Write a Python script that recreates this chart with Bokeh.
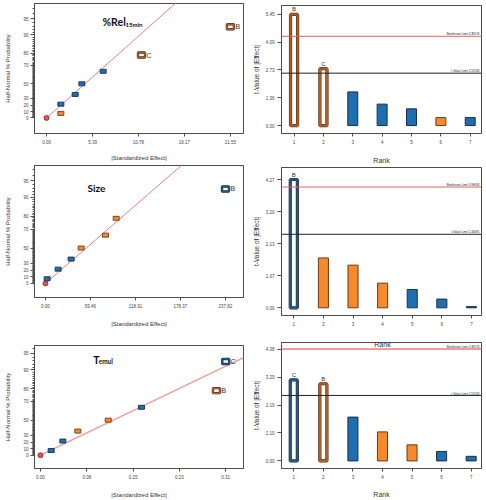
from statistics import NormalDist
from bokeh.plotting import figure
from bokeh.layouts import row, column
from bokeh.models import ColumnDataSource, FixedTicker, Range1d, Label, LabelSet, Span
from bokeh.core.properties import value
from bokeh.embed import file_html
from bokeh.resources import INLINE

# ---------------- data ----------------
# half-normal plots: |standardized effect| against half-normal % probability
hn_prob = [0.0, 7.14, 21.43, 35.71, 50.0, 64.29, 78.57, 92.86]
hn_prob_ticks = [0, 10, 20, 30, 50, 70, 80, 90, 95, 99]

rel_effect = [0.0, 1.68, 1.68, 3.36, 4.14, 6.64, 11.13, 21.55]
rel_kind = ["err", "pos", "neg", "neg", "neg", "neg", "posSel", "posSel"]
rel_tag = ["", "", "", "", "", "", "C", "B"]
rel_xticks = ["0.00", "5.39", "10.78", "16.17", "21.55"]
rel_xmax = 21.55
rel_slope = 0.150

size_effect = [0.0, 2.2, 16.7, 33.9, 47.1, 79.3, 93.4, 237.82]
size_kind = ["err", "neg", "neg", "neg", "pos", "pos", "pos", "negSel"]
size_tag = ["", "", "", "", "", "", "", "B"]
size_xticks = ["0.00", "59.46", "118.91", "178.37", "237.82"]
size_xmax = 237.82
size_slope = 0.01254

temul_effect = [0.0, 0.0179, 0.0374, 0.0625, 0.1133, 0.169, 0.2945, 0.310]
temul_kind = ["err", "neg", "neg", "pos", "pos", "neg", "posSel", "negSel"]
temul_tag = ["", "", "", "", "", "", "B", "C"]
temul_xticks = ["0.00", "0.08", "0.15", "0.23", "0.31"]
temul_xmax = 0.31
temul_slope = 5.52

# Pareto charts: t-value of |effect| by rank
rank = [1, 2, 3, 4, 5, 6, 7]

rel_t = [5.45, 2.79, 1.65, 1.05, 0.82, 0.39, 0.39]
rel_t_kind = ["posSel", "posSel", "neg", "neg", "neg", "pos", "neg"]
rel_t_tag = ["B", "C", "", "", "", "", ""]
rel_yticks = ["0.00", "1.36", "2.73", "4.09", "5.45"]
rel_limits = [4.38, 2.5706]
rel_limit_text = ["Bonferroni Limit 4.38176", "t-Value Limit 2.57058"]

size_t = [4.27, 1.66, 1.42, 0.82, 0.61, 0.29, 0.04]
size_t_kind = ["negSel", "pos", "pos", "pos", "neg", "neg", "neg"]
size_t_tag = ["B", "", "", "", "", "", ""]
size_yticks = ["0.00", "1.07", "2.13", "3.20", "4.27"]
size_limits = [4.02, 2.4469]
size_limit_text = ["Bonferroni Limit 3.99634", "t-Value Limit 2.44691"]

temul_t = [3.18, 3.03, 1.72, 1.14, 0.63, 0.37, 0.18]
temul_t_kind = ["negSel", "posSel", "neg", "pos", "pos", "neg", "neg"]
temul_t_tag = ["C", "B", "", "", "", "", ""]
temul_yticks = ["0.00", "1.10", "2.19", "3.29", "4.38"]
temul_limits = [4.39, 2.5706]
temul_limit_text = ["Bonferroni Limit 4.38176", "t-Value Limit 2.57058"]

# ---------------- styles ----------------
BLUE, BLUE_EDGE = "#1f6eb0", "#17304b"
ORANGE, ORANGE_EDGE = "#f5892c", "#6b3a18"
SEL_EDGE = {"posSel": "#b25e22", "negSel": "#1d5a8c"}
ERR_FILL, ERR_EDGE = "#e4514e", "#7a2424"
FRAME = "#4d4d4d"
FONT = "Liberation Sans"
TFONT = "Lato"

nd = NormalDist()


def hn_q(pct):
    return nd.inv_cdf(0.5 + pct / 200.0)


def style_fig(p, xlabel_standoff=8):
    p.outline_line_color = FRAME
    p.outline_line_width = 1
    p.xgrid.visible = False
    p.ygrid.visible = False
    for ax in (p.xaxis[0], p.yaxis[0]):
        ax.axis_line_color = FRAME
        ax.major_tick_line_color = FRAME
        ax.minor_tick_line_color = FRAME
        ax.major_label_text_font = FONT
        ax.major_label_text_font_size = "4.5px"
        ax.major_label_text_color = "#444444"
        ax.axis_label_text_font = FONT
        ax.axis_label_text_font_style = "normal"
        ax.axis_label_text_color = "#333333"
        ax.major_tick_in = 0
        ax.minor_tick_in = 0
    p.xaxis[0].major_tick_out = 3
    p.xaxis[0].major_label_standoff = 3
    p.xaxis[0].axis_label_standoff = xlabel_standoff


def make_fig(W, H, mb, xr, yr):
    return figure(width=W, height=H, x_range=Range1d(*xr), y_range=Range1d(*yr),
                  output_backend="svg", toolbar_location=None,
                  min_border_left=mb[0], min_border_right=mb[1],
                  min_border_top=mb[2], min_border_bottom=mb[3])


def halfnormal(effect, kind, tag, xticks, xmax, slope, W, H, mb, xr, yr, titles, xl_standoff,
               line_color="#ec7f7f", line_width=1.0):
    p = make_fig(W, H, mb, xr, yr)
    style_fig(p, xl_standoff)
    q = [hn_q(v) for v in hn_prob]
    p.line([0, xr[1]], [0, slope * xr[1]], line_color=line_color, line_width=line_width)

    idx_err = [i for i, k in enumerate(kind) if k == "err"]
    idx_sol = [i for i, k in enumerate(kind) if k in ("pos", "neg")]
    idx_sel = [i for i, k in enumerate(kind) if k in ("posSel", "negSel")]
    p.scatter([effect[i] for i in idx_err], [q[i] for i in idx_err], marker="circle", size=5,
              fill_color=ERR_FILL, line_color=ERR_EDGE, line_width=0.8)
    s_sol = ColumnDataSource(dict(
        x=[effect[i] for i in idx_sol], y=[q[i] for i in idx_sol],
        f=[BLUE if kind[i] == "neg" else ORANGE for i in idx_sol],
        l=[BLUE_EDGE if kind[i] == "neg" else ORANGE_EDGE for i in idx_sol]))
    p.rect("x", "y", width=6, height=4, width_units="screen", height_units="screen",
           fill_color="f", line_color="l", line_width=0.9, source=s_sol)
    s_sel = ColumnDataSource(dict(
        x=[effect[i] for i in idx_sel], y=[q[i] for i in idx_sel],
        l=[SEL_EDGE[kind[i]] for i in idx_sel], t=[tag[i] for i in idx_sel]))
    p.rect("x", "y", width=7, height=5, width_units="screen", height_units="screen",
           fill_color="white", line_color="#2b2b2b", line_width=2.4, source=s_sel)
    p.rect("x", "y", width=7, height=5, width_units="screen", height_units="screen",
           fill_color=None, line_color="l", line_width=1.5, source=s_sel)
    p.add_layout(LabelSet(x="x", y="y", text="t", source=s_sel, x_offset=5,
                          text_baseline="middle", text_font=value(FONT),
                          text_font_size="7px", text_color="#333333"))

    xt = [xmax * i / 4 for i in range(5)]
    p.xaxis[0].ticker = FixedTicker(ticks=xt, minor_ticks=[])
    p.xaxis[0].major_label_overrides = {v: s for v, s in zip(xt, xticks)}
    p.xaxis[0].axis_label = "|Standardized Effect|"
    p.xaxis[0].axis_label_text_font_size = "6px"

    yt = [hn_q(t) for t in hn_prob_ticks]
    ym = [hn_q(m) for m in range(1, 99) if m not in hn_prob_ticks]
    ya = p.yaxis[0]
    ya.ticker = FixedTicker(ticks=yt, minor_ticks=ym)
    ya.major_label_overrides = {v: str(t) for v, t in zip(yt, hn_prob_ticks)}
    ya.major_tick_out = 4
    ya.minor_tick_out = 2
    ya.major_label_standoff = 2
    ya.axis_label = "Half-Normal % Probability"
    ya.axis_label_text_font_size = "6px"
    ya.axis_label_standoff = 9

    for text, x, y, xo, fs in titles:
        p.add_layout(Label(x=x, y=y, x_offset=xo, text=text, text_font=TFONT,
                           text_font_style="bold", text_font_size=fs,
                           text_color="#111111", text_baseline="alphabetic"))
    return p


def pareto(tv, kind, tag, yticks, limits, limit_text, W, H, mb, xr, yr, xlabel, xl_standoff,
           bonf_color="#e9605c", bonf_width=1.0):
    p = make_fig(W, H, mb, xr, yr)
    style_fig(p, xl_standoff)
    idx_sol = [i for i, k in enumerate(kind) if k in ("pos", "neg")]
    idx_sel = [i for i, k in enumerate(kind) if k in ("posSel", "negSel")]
    s_sol = ColumnDataSource(dict(
        x=[rank[i] for i in idx_sol], top=[tv[i] for i in idx_sol],
        f=[BLUE if kind[i] == "neg" else ORANGE for i in idx_sol],
        l=[BLUE_EDGE if kind[i] == "neg" else ORANGE_EDGE for i in idx_sol]))
    p.vbar(x="x", top="top", bottom=0, width=0.34, fill_color="f", line_color="l",
           line_width=1, source=s_sol)
    s_sel = ColumnDataSource(dict(
        x=[rank[i] for i in idx_sel], top=[tv[i] for i in idx_sel],
        l=[SEL_EDGE[kind[i]] for i in idx_sel], t=[tag[i] for i in idx_sel]))
    p.vbar(x="x", top="top", bottom=0, width=0.24, fill_color="white", line_color="#3a2a20",
           line_width=3.2, source=s_sel)
    p.vbar(x="x", top="top", bottom=0, width=0.24, fill_color=None, line_color="l",
           line_width=2.2, source=s_sel)
    p.add_layout(LabelSet(x="x", y="top", text="t", source=s_sel, y_offset=2,
                          text_align="center", text_baseline="bottom",
                          text_font=value(FONT), text_font_size="6px", text_color="#333333"))

    colors = [bonf_color, "#222222"]
    widths = [bonf_width, 1.0]
    for lim, txt, c, w in zip(limits, limit_text, colors, widths):
        p.add_layout(Span(location=lim, dimension="width", line_color=c, line_width=w))
        p.add_layout(Label(x=xr[1], y=lim, x_offset=-2, y_offset=0.5, text=txt,
                           text_align="right", text_baseline="bottom", text_font=FONT,
                           text_font_size="3px", text_color="#222222"))

    p.xaxis[0].ticker = FixedTicker(ticks=rank, minor_ticks=[])
    if xlabel:
        p.xaxis[0].axis_label = "Rank"
        p.xaxis[0].axis_label_text_font_size = "7px"
    yt = [float(s) for s in yticks]
    ya = p.yaxis[0]
    ya.ticker = FixedTicker(ticks=yt, minor_ticks=[])
    ya.major_label_overrides = {v: s for v, s in zip(yt, yticks)}
    ya.major_tick_out = 4
    ya.major_label_standoff = 3
    ya.axis_label = "t-Value of |Effect|"
    ya.axis_label_text_font_size = "6.5px"
    ya.axis_label_standoff = 3
    return p


# ---------------- panels ----------------
LW, RW = 245, 241
L1 = halfnormal(rel_effect, rel_kind, rel_tag, rel_xticks, rel_xmax, rel_slope,
                LW, 163, (34, 2, 3, 29), (-1.41, 23.08), (-0.308, 2.261),
                [("%Rel", 6.56, 1.894, 0, "10.5px"), ("15min", 6.56, 1.849, 23, "6px")], 8)
L2 = halfnormal(size_effect, size_kind, size_tag, size_xticks, size_xmax, size_slope,
                LW, 179, (34, 2, 2, 45), (-14.5, 261.6), (-0.269, 2.25),
                [("Size", 55.5, 1.821, 0, "10px")], 10)
L3 = halfnormal(temul_effect, temul_kind, temul_tag, temul_xticks, temul_xmax, temul_slope,
                LW, 158, (34, 2, 3, 32), (-0.010, 0.3397), (-0.256, 2.11),
                [("T", 0.0882, 1.840, 0, "10.5px"), ("emul", 0.0882, 1.802, 5.5, "6.5px")], 10,
                line_color="#f39a9a", line_width=1.4)

R1 = pareto(rel_t, rel_t_kind, rel_t_tag, rel_yticks, rel_limits, rel_limit_text,
            RW, 166, (36, 5, 5, 29), (0.572, 7.384), (-0.39, 5.89), True, 10)
R2 = pareto(size_t, size_t_kind, size_t_tag, size_yticks, size_limits, size_limit_text,
            RW, 172, (36, 5, 1, 23), (0.584, 7.34), (-0.256, 4.67), False, 8)
R3 = pareto(temul_t, temul_t_kind, temul_t_tag, temul_yticks, temul_limits, temul_limit_text,
            RW, 162, (36, 5, 4, 30), (0.584, 7.35), (-0.298, 4.65), True, 9,
            bonf_color="#f29a9a", bonf_width=2.0)
# axis title of the middle Pareto chart overlaps the top of the last one
R3.add_layout(Label(x=4.0, y=4.57, text="Rank", text_align="center", text_baseline="middle",
                    text_font=FONT, text_font_size="7px", text_color="#333333"))

layout = row(column(L1, L2, L3), column(R1, R2, R3))
open("out.html", "w").write(file_html(layout, INLINE))
